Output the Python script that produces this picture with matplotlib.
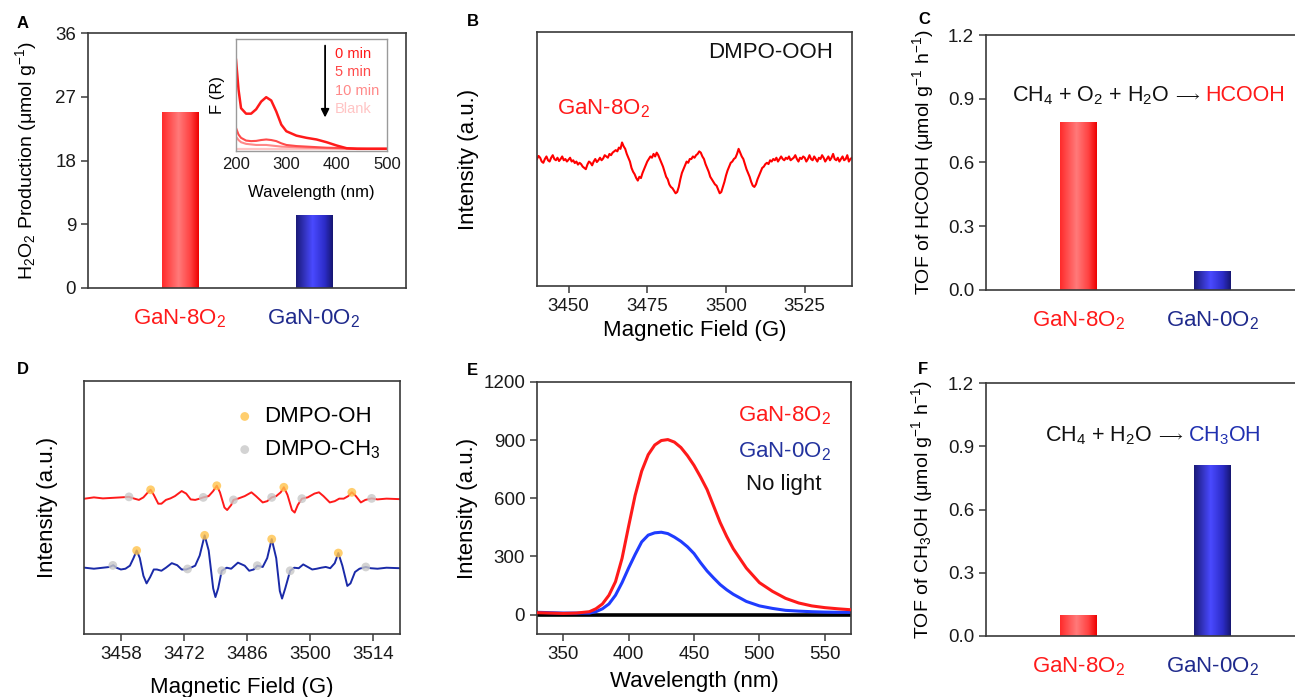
import numpy as np
import matplotlib
matplotlib.use("Agg")
import matplotlib.pyplot as plt
from matplotlib.colors import LinearSegmentedColormap

plt.rcParams['font.family'] = ['Liberation Sans', 'DejaVu Sans']
plt.rcParams['mathtext.fontset'] = 'custom'
plt.rcParams['mathtext.rm'] = 'Liberation Sans'
plt.rcParams['mathtext.it'] = 'Liberation Sans:italic'
plt.rcParams['mathtext.bf'] = 'Liberation Sans:bold'
plt.rcParams['axes.edgecolor'] = '#3a3a3a'
plt.rcParams['axes.linewidth'] = 1.2
plt.rcParams['xtick.color'] = '#3a3a3a'
plt.rcParams['ytick.color'] = '#3a3a3a'
plt.rcParams['xtick.labelcolor'] = '#1a1a1a'
plt.rcParams['ytick.labelcolor'] = '#1a1a1a'

RED = '#ff1a1a'
NAVY = '#1f2a8c'

# ── data ────────────────────────────────────────────────────────────────────
samples = ['GaN-8O$_2$', 'GaN-0O$_2$']
sample_colors = [RED, NAVY]

h2o2_prod = [24.8, 10.3]
h2o2_ticks = [0, 9, 18, 27, 36]

inset_wl = [200, 205, 210, 220, 230, 240, 250, 260, 270, 280, 290, 300,
            320, 340, 360, 380, 400, 420, 440, 460, 500]
inset_0min = [0.81, 0.54, 0.37, 0.32, 0.32, 0.36, 0.43, 0.47, 0.44, 0.34, 0.22,
              0.16, 0.12, 0.10, 0.085, 0.06, 0.03, 0.005, 0.0, 0.0, 0.0]
inset_5min = [0.19, 0.13, 0.10, 0.075, 0.07, 0.072, 0.08, 0.085, 0.08, 0.07,
              0.05, 0.035, 0.025, 0.02, 0.015, 0.01, 0.008, 0.005, 0.002, 0.0, 0.0]
inset_10min = [0.11, 0.08, 0.06, 0.045, 0.04, 0.035, 0.035, 0.035, 0.03, 0.025,
               0.02, 0.018, 0.014, 0.01, 0.008, 0.006, 0.004, 0.002, 0.0, 0.0, 0.0]
inset_blank = [0.0] * 21
inset_labels = ['0 min', '5 min', '10 min', 'Blank']
inset_colors = ['#ff1a1a', '#ff4a4a', '#ff8888', '#ffc4c4']

# EPR DMPO-OOH, sampled every 0.5 G from 3440 G
ooh_field = np.arange(3440, 3540.25, 0.5)
ooh_signal = [
    0.50, 0.512, 0.505, 0.49, 0.485, 0.50, 0.51, 0.495, 0.49, 0.505,
    0.515, 0.50, 0.495, 0.505, 0.492, 0.50, 0.51, 0.495, 0.50, 0.49,
    0.497, 0.505, 0.49, 0.495, 0.484, 0.49, 0.478, 0.485, 0.48, 0.47,
    0.465, 0.46, 0.478, 0.49, 0.485, 0.475, 0.49, 0.50, 0.488, 0.495,
    0.505, 0.495, 0.502, 0.515, 0.51, 0.505, 0.52, 0.515, 0.525, 0.53,
    0.535, 0.53, 0.545, 0.54, 0.565, 0.55, 0.54, 0.52, 0.505, 0.49,
    0.465, 0.45, 0.44, 0.425, 0.415, 0.43, 0.425, 0.445, 0.46, 0.475,
    0.49, 0.50, 0.51, 0.505, 0.52, 0.51, 0.525, 0.515, 0.50, 0.485,
    0.47, 0.45, 0.43, 0.42, 0.40, 0.39, 0.385, 0.375, 0.365, 0.37,
    0.39, 0.42, 0.445, 0.46, 0.475, 0.49, 0.485, 0.50, 0.50, 0.51,
    0.505, 0.515, 0.52, 0.53, 0.525, 0.51, 0.50, 0.48, 0.465, 0.45,
    0.43, 0.42, 0.41, 0.40, 0.395, 0.38, 0.365, 0.37, 0.39, 0.41,
    0.435, 0.455, 0.47, 0.485, 0.49, 0.50, 0.505, 0.52, 0.54, 0.525,
    0.51, 0.50, 0.48, 0.46, 0.445, 0.43, 0.41, 0.395, 0.39, 0.40,
    0.42, 0.435, 0.45, 0.465, 0.47, 0.48, 0.485, 0.48, 0.495, 0.49,
    0.50, 0.495, 0.505, 0.49, 0.50, 0.51, 0.50, 0.495, 0.505, 0.50,
    0.51, 0.495, 0.50, 0.505, 0.515, 0.50, 0.49, 0.505, 0.50, 0.51,
    0.505, 0.49, 0.50, 0.515, 0.50, 0.495, 0.51, 0.50, 0.49, 0.505,
    0.50, 0.515, 0.505, 0.49, 0.50, 0.51, 0.495, 0.505, 0.52, 0.50,
    0.495, 0.505, 0.49, 0.50, 0.51, 0.495, 0.50, 0.515, 0.49, 0.50,
    0.505]

hcooh_tof = [0.79, 0.085]
ch3oh_tof = [0.095, 0.81]
tof_ticks = [0.0, 0.3, 0.6, 0.9, 1.2]
tof_ticklabels = ['0.0', '0.3', '0.6', '0.9', '1.2']

red_field = [3450, 3452, 3454, 3456, 3458, 3459.8, 3461, 3462, 3463, 3464, 3464.6,
             3465.3, 3466.3, 3467, 3468, 3469, 3470, 3471.5, 3472.5, 3473.5, 3474.5,
             3475.5, 3476.3, 3477.5, 3478.5, 3479.3, 3480, 3481, 3481.6, 3482.5, 3483,
             3484, 3485.5, 3487, 3488, 3489.5, 3490.5, 3491.5, 3492.5, 3493.5, 3494.2,
             3495, 3496, 3496.6, 3497.3, 3498.2, 3499.5, 3501, 3502, 3503, 3504.4,
             3505.5, 3506.5, 3507.5, 3508.5, 3509.3, 3510.2, 3511.3, 3512.3, 3513.7,
             3515, 3517, 3520]
red_signal = [0.535, 0.54, 0.536, 0.538, 0.54, 0.542, 0.535, 0.53, 0.54, 0.56, 0.57,
              0.55, 0.515, 0.515, 0.53, 0.536, 0.545, 0.565, 0.555, 0.532, 0.53,
              0.535, 0.54, 0.545, 0.565, 0.586, 0.56, 0.50, 0.49, 0.51, 0.53,
              0.535, 0.545, 0.56, 0.545, 0.52, 0.525, 0.54, 0.545, 0.56, 0.58,
              0.55, 0.49, 0.48, 0.51, 0.535, 0.54, 0.555, 0.56, 0.545, 0.52,
              0.525, 0.535, 0.535, 0.545, 0.56, 0.545, 0.52, 0.53, 0.536,
              0.532, 0.535, 0.533]
blue_field = [3450, 3452, 3454, 3455.5, 3456.3, 3457, 3458, 3459, 3460, 3460.8, 3461.5,
              3462.2, 3463, 3463.7, 3464.5, 3465.3, 3466, 3467, 3468, 3469.3, 3470.5,
              3471.5, 3472.5, 3473.5, 3474.5, 3475.5, 3476.6, 3477.5, 3478.5, 3479,
              3479.6, 3480.4, 3481.5, 3482.5, 3484, 3485.5, 3486.5, 3487.5, 3488.3,
              3489.5, 3490.5, 3491.5, 3492.5, 3493.3, 3493.8, 3494.5, 3495.6, 3496.5,
              3497.5, 3498.5, 3499.5, 3500.5, 3501.5, 3502.5, 3503.5, 3504.5, 3505.5,
              3506.3, 3507.2, 3508.3, 3509, 3510, 3511, 3512.4, 3513.5, 3515, 3517, 3520]
blue_signal = [0.262, 0.258, 0.262, 0.265, 0.272, 0.262, 0.255, 0.258, 0.27, 0.30, 0.33,
               0.30, 0.23, 0.20, 0.225, 0.255, 0.255, 0.25, 0.262, 0.28, 0.272,
               0.255, 0.255, 0.262, 0.27, 0.31, 0.39, 0.33, 0.18, 0.146,
               0.18, 0.25, 0.262, 0.258, 0.282, 0.27, 0.25, 0.255, 0.27,
               0.265, 0.30, 0.375, 0.30, 0.17, 0.14, 0.18, 0.25, 0.262,
               0.26, 0.275, 0.265, 0.255, 0.258, 0.262, 0.265, 0.26, 0.28,
               0.32, 0.27, 0.19, 0.20, 0.245, 0.258, 0.265, 0.26, 0.258, 0.262, 0.26]
oh_red_field = [3464.6, 3479.3, 3494.2, 3509.3]
ch3_red_field = [3459.8, 3476.3, 3483, 3491.5, 3498.2, 3513.7]
oh_blue_field = [3461.5, 3476.6, 3491.5, 3506.3]
ch3_blue_field = [3456.2, 3472.8, 3480.4, 3488.3, 3495.6, 3512.4]

pl_wl = [330, 340, 350, 360, 370, 375, 380, 385, 390, 395, 400, 405, 410, 415, 420,
         425, 430, 435, 440, 445, 450, 455, 460, 465, 470, 475, 480, 490, 500, 510,
         520, 530, 540, 550, 560, 570]
pl_8o2 = [10, 8, 6, 8, 15, 30, 55, 100, 170, 290, 455, 615, 740, 825, 875,
          898, 903, 890, 862, 820, 770, 710, 645, 560, 475, 403, 340, 240, 165, 120,
          84, 60, 45, 36, 30, 25]
pl_0o2 = [12, 10, 8, 8, 8, 15, 30, 55, 100, 165, 240, 310, 375, 410, 422,
          425, 418, 400, 378, 350, 315, 268, 225, 189, 155, 128, 105, 68, 45, 32,
          22, 18, 15, 13, 12, 12]
pl_dark = [0] * len(pl_wl)

# ── layout helpers ──────────────────────────────────────────────────────────
W, H = 1295, 697
fig = plt.figure(figsize=(W / 100, H / 100), dpi=100)


def add_axes(l, t, r, b):
    return fig.add_axes([l / W, 1 - b / H, (r - l) / W, (b - t) / H])


def set_labels(ax, xlabel=None, ylabel=None, xl_y=None, yl_x=None, size=16):
    if xlabel:
        ax.set_xlabel(xlabel, fontsize=size)
        ax.xaxis.set_label_coords(0.5, xl_y)
        ax.xaxis.label.set_va('center')
    if ylabel:
        ax.set_ylabel(ylabel, fontsize=size)
        ax.yaxis.set_label_coords(yl_x, 0.5)
        ax.yaxis.label.set_va('center')


red_cmap = LinearSegmentedColormap.from_list(
    'redbar', [(0, '#ff2a2a'), (0.45, '#ff7a7a'), (0.78, '#ff4040'), (1, '#ee0000')])
blue_cmap = LinearSegmentedColormap.from_list(
    'bluebar', [(0, '#1a1a78'), (0.45, '#4a4aff'), (0.78, '#2c2cc8'), (1, '#161670')])


def gradient_bars(ax, values, ylim):
    x = np.arange(len(values))
    bars = ax.bar(x, values, width=0.27, color='none', edgecolor='none')
    grad = np.linspace(0, 1, 256).reshape(1, -1)
    for bar, cmap in zip(bars, [red_cmap, blue_cmap]):
        x0 = bar.get_x()
        ax.imshow(grad, cmap=cmap, aspect='auto', zorder=2,
                  extent=(x0, x0 + bar.get_width(), 0, bar.get_height()))
    ax.set_xlim(-0.685, 1.69)
    ax.set_ylim(*ylim)
    ax.set_xticks(x)
    ax.set_xticklabels(samples, fontsize=16)
    for lbl, c in zip(ax.get_xticklabels(), sample_colors):
        lbl.set_color(c)
    ax.tick_params(axis='x', length=0, pad=14)
    ax.tick_params(axis='y', direction='out', length=5, width=1.1, labelsize=13.5)


def equation(ax, x, y, black, colored, color):
    # reactants, a long thin arrow, then the coloured product
    t1 = ax.text(x, y, black, transform=ax.transAxes, fontsize=15.5, va='baseline',
                 ha='left', color='#111111')
    t2 = ax.annotate(r'$\longrightarrow$', xy=(1, y), xycoords=(t1, ax.transAxes),
                     xytext=(3, 1.5), textcoords='offset points',
                     fontsize=11, va='baseline', ha='left', color='#111111')
    ax.annotate(colored, xy=(1, y), xycoords=(t2, ax.transAxes),
                xytext=(3, 0), textcoords='offset points',
                fontsize=15.5, va='baseline', ha='left', color=color)


# ── A: H2O2 production ──────────────────────────────────────────────────────
axA = add_axes(88, 33, 406, 288)
gradient_bars(axA, h2o2_prod, (0, 36))
axA.set_yticks(h2o2_ticks)
set_labels(axA, ylabel='H$_2$O$_2$ Production (μmol g$^{-1}$)', yl_x=-0.195, size=14)

axI = add_axes(236, 39, 387, 151)
for ys, c, lw in zip([inset_blank, inset_10min, inset_5min, inset_0min], inset_colors[::-1],
                     [1.6, 1.5, 1.5, 1.8]):
    axI.plot(inset_wl, ys, color=c, lw=lw)
axI.set_xlim(200, 500)
axI.set_ylim(-0.02, 1.0)
axI.set_yticks([])
axI.set_xticks([200, 300, 400, 500])
axI.tick_params(axis='x', length=0, pad=4, labelsize=12)
for s in axI.spines.values():
    s.set_color('#9a9a9a')
    s.set_linewidth(1.0)
set_labels(axI, xlabel='Wavelength (nm)', ylabel='F (R)', xl_y=-0.375, yl_x=-0.12, size=12)
axI.annotate('', xy=(377, 0.26), xytext=(377, 0.965),
             arrowprops=dict(arrowstyle='-|>', color='black', lw=1.3, mutation_scale=12))
for i, (lbl, c) in enumerate(zip(inset_labels, inset_colors)):
    axI.text(0.656, 0.866 - i * 0.163, lbl, transform=axI.transAxes, color=c,
             fontsize=10.5, va='center', ha='left')

# ── B: DMPO-OOH EPR ─────────────────────────────────────────────────────────
axB = add_axes(537, 32, 852, 286)
axB.plot(ooh_field, ooh_signal, color='#ff0000', lw=1.5)
axB.set_xlim(3440, 3540)
axB.set_ylim(0, 1)
axB.set_yticks([])
axB.set_xticks([3450, 3475, 3500, 3525])
axB.tick_params(axis='x', direction='out', length=5, width=1.1, labelsize=13.5)
set_labels(axB, xlabel='Magnetic Field (G)', ylabel='Intensity (a.u.)', xl_y=-0.175, yl_x=-0.219)
axB.text(0.94, 0.92, 'DMPO-OOH', transform=axB.transAxes, fontsize=16,
         ha='right', va='center', color='#111111')
axB.text(0.065, 0.70, 'GaN-8O$_2$', transform=axB.transAxes, fontsize=16,
         ha='left', va='center', color=RED)

# ── C: HCOOH TOF ────────────────────────────────────────────────────────────
axC = add_axes(986, 35, 1305, 290)
gradient_bars(axC, hcooh_tof, (0, 1.2))
axC.set_yticks(tof_ticks)
axC.set_yticklabels(tof_ticklabels)
set_labels(axC, ylabel='TOF of HCOOH (μmol g$^{-1}$ h$^{-1}$)', yl_x=-0.197, size=14)
equation(axC, 0.08, 0.74, r'CH$_4$ + O$_2$ + H$_2$O', 'HCOOH', RED)

# ── D: DMPO-OH / DMPO-CH3 EPR ───────────────────────────────────────────────
axD = add_axes(84, 381, 400, 634)
axD.plot(red_field, red_signal, color=RED, lw=1.4, zorder=2)
axD.plot(blue_field, blue_signal, color='#1a2aa8', lw=1.4, zorder=2)
oh_f = oh_red_field + oh_blue_field
oh_y = list(np.interp(oh_red_field, red_field, red_signal)) + \
    list(np.interp(oh_blue_field, blue_field, blue_signal))
ch3_f = ch3_red_field + ch3_blue_field
ch3_y = list(np.interp(ch3_red_field, red_field, red_signal)) + \
    list(np.interp(ch3_blue_field, blue_field, blue_signal))
axD.scatter(oh_f, oh_y, s=40, color='#ffc24a', alpha=0.8, edgecolors='none', zorder=3,
            label='DMPO-OH')
axD.scatter(ch3_f, ch3_y, s=40, color='#c8c8c8', alpha=0.8, edgecolors='none', zorder=3,
            label='DMPO-CH$_3$')
axD.set_xlim(3449.8, 3520)
axD.set_ylim(0, 1)
axD.set_yticks([])
axD.set_xticks([3458, 3472, 3486, 3500, 3514])
axD.tick_params(axis='x', direction='out', length=5, width=1.1, labelsize=13.5)
set_labels(axD, xlabel='Magnetic Field (G)', ylabel='Intensity (a.u.)', xl_y=-0.21, yl_x=-0.117)
axD.legend(loc='upper left', bbox_to_anchor=(0.47, 0.90), frameon=False, fontsize=16,
           handletextpad=0.3, labelspacing=0.5, borderpad=0, borderaxespad=0,
           scatterpoints=1, handlelength=1.1)

# ── E: fluorescence ─────────────────────────────────────────────────────────
axE = add_axes(537, 382, 851, 634)
axE.plot(pl_wl, pl_dark, color='black', lw=2.6, zorder=1)
axE.plot(pl_wl, pl_0o2, color='#1f3cff', lw=2.2, zorder=2)
axE.plot(pl_wl, pl_8o2, color='#ff1a1a', lw=2.2, zorder=3)
axE.set_xlim(330, 570)
axE.set_ylim(-100, 1200)
axE.set_xticks([350, 400, 450, 500, 550])
axE.set_yticks([0, 300, 600, 900, 1200])
axE.tick_params(direction='out', length=5, width=1.1, labelsize=13.5)
set_labels(axE, xlabel='Wavelength (nm)', ylabel='Intensity (a.u.)', xl_y=-0.19, yl_x=-0.22)
axE.text(0.935, 0.865, 'GaN-8O$_2$', transform=axE.transAxes, fontsize=16, color=RED,
         va='center', ha='right')
axE.text(0.935, 0.722, 'GaN-0O$_2$', transform=axE.transAxes, fontsize=16, color='#24339e',
         va='center', ha='right')
axE.text(0.785, 0.595, 'No light', transform=axE.transAxes, fontsize=16, color='#111111',
         va='center', ha='center')

# ── F: CH3OH TOF ────────────────────────────────────────────────────────────
axF = add_axes(986, 383, 1305, 636)
gradient_bars(axF, ch3oh_tof, (0, 1.2))
axF.set_yticks(tof_ticks)
axF.set_yticklabels(tof_ticklabels)
set_labels(axF, ylabel='TOF of CH$_3$OH (μmol g$^{-1}$ h$^{-1}$)', yl_x=-0.2, size=14)
equation(axF, 0.185, 0.77, r'CH$_4$ + H$_2$O', 'CH$_3$OH', '#2030b0')

# ── panel letters ───────────────────────────────────────────────────────────
for letter, (px, py) in zip('ABCDEF', [(23, 23), (473, 21), (924, 20),
                                       (23, 370), (472, 371), (923, 370)]):
    fig.text(px / W, 1 - py / H, letter, fontsize=12, fontweight='bold',
             ha='center', va='center')

fig.savefig('out.png', dpi=100)
